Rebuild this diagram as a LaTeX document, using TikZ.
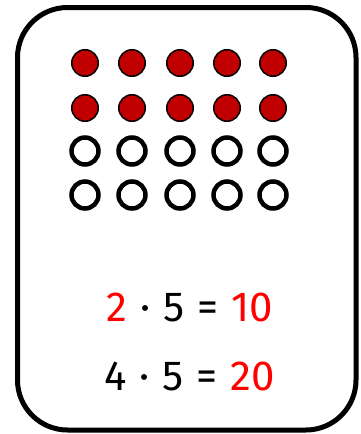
\documentclass[tikz,border=0pt]{standalone}
\usepackage{fontspec}
\setmainfont{Fira Sans}
\usepackage{xcolor}
\definecolor{dotred}{HTML}{C00000}
\definecolor{numred}{HTML}{FF0000}
\usetikzlibrary{positioning}
\newcommand\eqfont{\fontsize{42}{48}\selectfont\spaceskip=13pt\relax}

\begin{document}
\begin{tikzpicture}[
    x=1pt, y=-1pt,
    card/.style={line width=5pt, rounded corners=50pt},
    reddot/.style={circle, draw, fill=dotred, line width=1.5pt,
                   minimum size=26.5pt, inner sep=0pt},
    opendot/.style={circle, draw, fill=white, line width=4.5pt,
                    minimum size=27pt, inner sep=0pt},
    eq/.style={font=\eqfont, inner sep=0pt, anchor=base}
  ]
    \useasboundingbox (0,0) rectangle (360,434);
    \draw[card] (17.5,7.5) rectangle (356,430);
    \foreach \r/\y/\s in {1/63/reddot, 2/108/reddot, 3/151/opendot, 4/195/opendot}
      \foreach \c/\x in {1/85, 2/132, 3/180, 4/227, 5/273}
        \node[\s] (d\r\c) at (\x,\y) {};
    \node[eq] (eqa) at (189.5,321) {\textcolor{numred}{2} · 5 = \textcolor{numred}{10}};
    \node[eq] (eqb) at (189.5,390) {4 · 5 = \textcolor{numred}{20}};
\end{tikzpicture}
\end{document}
